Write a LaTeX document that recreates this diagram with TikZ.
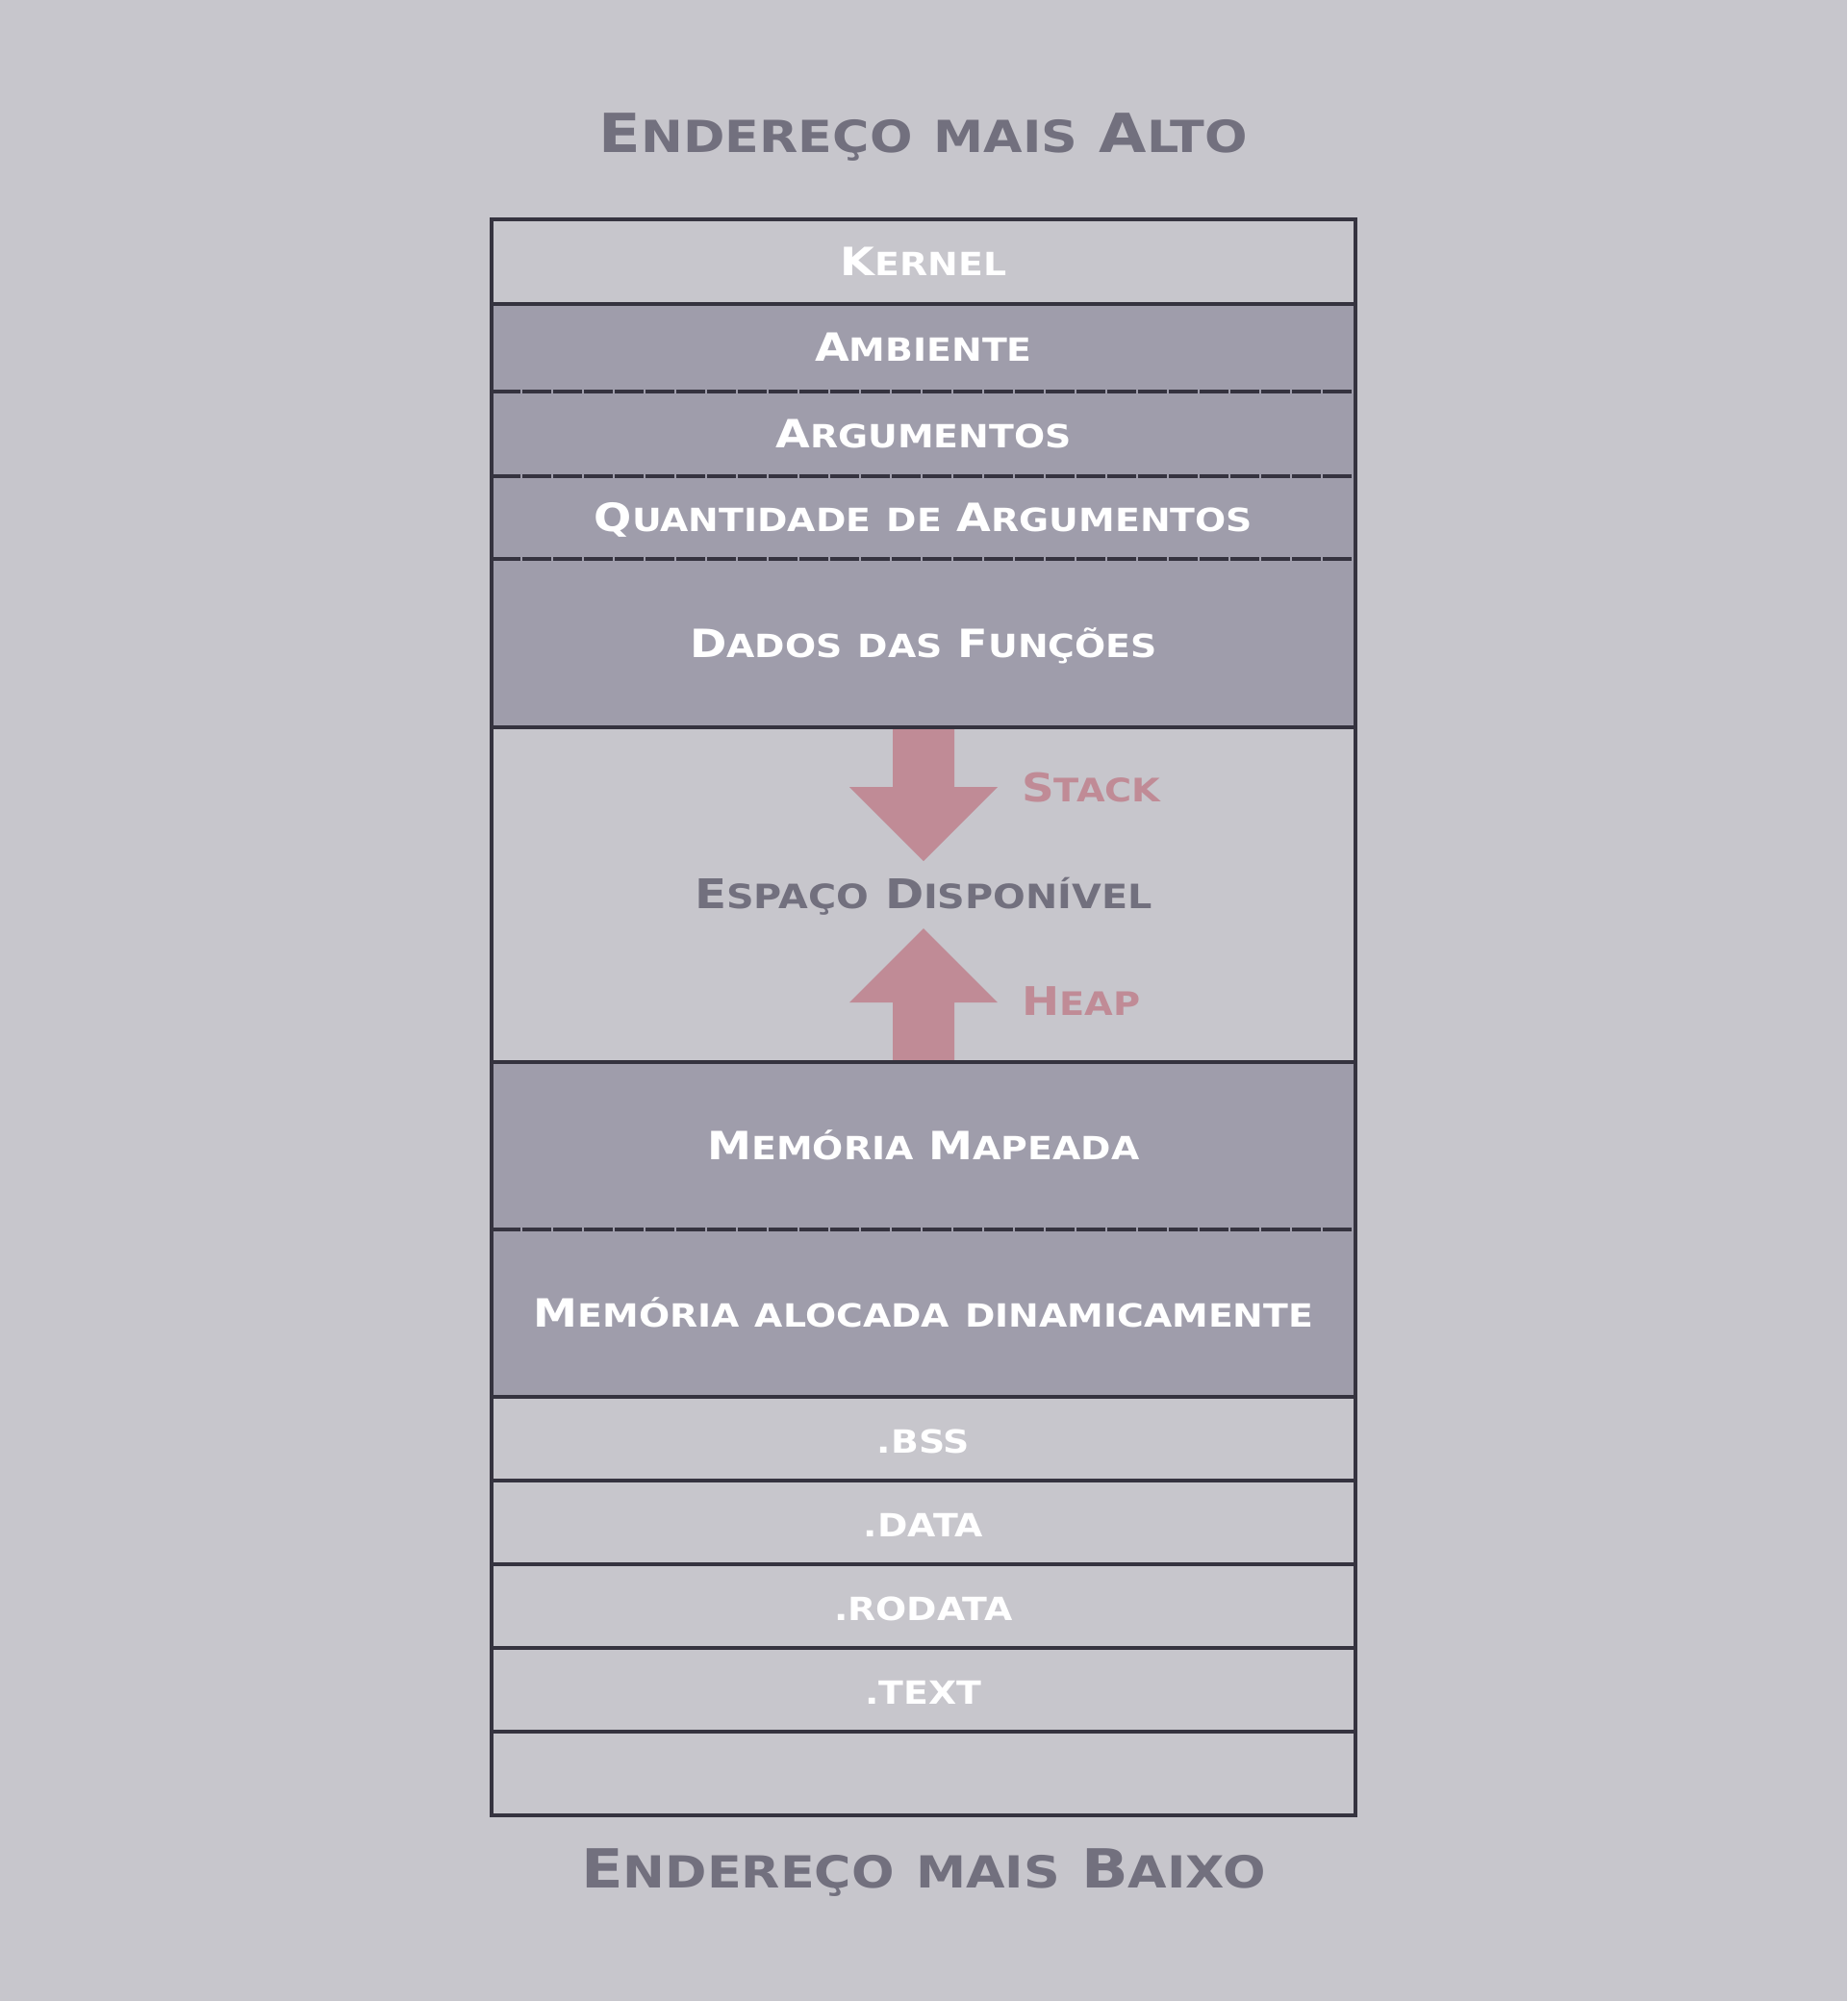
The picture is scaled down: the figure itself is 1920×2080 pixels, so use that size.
\documentclass[tikz,border=0pt]{standalone}
\usepackage{fontspec}
\usepackage{graphicx}
\newfontfamily\pixfont{DejaVu Sans}[FakeStretch=1.14]
\newcommand\lo[1]{\scalebox{0.82}{\MakeUppercase{#1}}}
\definecolor{bgc}{HTML}{C7C6CC}
\definecolor{darkrow}{HTML}{9F9DAB}
\definecolor{linec}{HTML}{35333F}
\definecolor{titlec}{HTML}{72707E}
\definecolor{arrowc}{HTML}{C08B96}
\begin{document}
\begin{tikzpicture}[x=1pt,y=-1pt,
  row/.style={minimum width=898pt, inner sep=0pt, outer sep=0pt, text=white,
    font=\pixfont\bfseries\fontsize{40.5}{40.5}\selectfont, text height=29pt, text depth=0pt},
  lightrow/.style={row, fill=bgc},
  dkrow/.style={row, fill=darkrow},
  sepline/.style={draw=linec, line width=4pt},
  dashsep/.style={sepline, dash pattern=on 30pt off 2pt},
  title/.style={text=titlec, inner sep=0pt, font=\pixfont\bfseries\fontsize{56}{56}\selectfont, text height=40pt, text depth=0pt},
  growlabel/.style={text=arrowc, inner sep=0pt, anchor=west, font=\pixfont\bfseries\fontsize{41}{41}\selectfont, text height=29pt, text depth=0pt},
  growarrow/.style={fill=arrowc, draw=none}
]
\useasboundingbox[fill=bgc] (0,0) rectangle (1920,2080);

\node[title] (top) at (960,138) {E\lo{ndereço} \lo{mais} A\lo{lto}};

\node[lightrow, minimum height=88pt]   (kernel) at (960,272)    {K\lo{ernel}};
\node[dkrow, minimum height=90.5pt]    (amb)    at (960,361.25) {A\lo{mbiente}};
\node[dkrow, minimum height=88.5pt]    (args)   at (960,450.75) {A\lo{rgumentos}};
\node[dkrow, minimum height=86pt]      (qtd)    at (960,538)    {Q\lo{uantidade} \lo{de} A\lo{rgumentos}};
\node[dkrow, minimum height=175pt]     (dados)  at (960,668.5)  {D\lo{ados} \lo{das} F\lo{unções}};
\node[lightrow, minimum height=347.5pt, text=titlec,
  font=\pixfont\bfseries\fontsize{42.5}{42.5}\selectfont] (esp) at (960,929.75) {E\lo{spaço} D\lo{isponível}};
\node[dkrow, minimum height=174.5pt]   (mapa)   at (960,1190.75) {M\lo{emória} M\lo{apeada}};
\node[dkrow, minimum height=174pt]     (dyn)    at (960,1365)   {M\lo{emória} \lo{alocada} \lo{dinamicamente}};
\node[lightrow, minimum height=87pt]   (bss)    at (960,1495.5) {\lo{.bss}};
\node[lightrow, minimum height=87pt]   (data)   at (960,1582.5) {\lo{.data}};
\node[lightrow, minimum height=87pt]   (rodata) at (960,1669.5) {\lo{.rodata}};
\node[lightrow, minimum height=87pt]   (text)   at (960,1756.5) {\lo{.text}};
\node[lightrow, minimum height=87pt]   (empty)  at (960,1843.5) {};

% growth arrows
\fill[growarrow] (928,756) -- (992,756) -- (992,818) -- (1037,818) -- (960,895)
  -- (883,818) -- (928,818) -- cycle;
\fill[growarrow] (928,1103.5) -- (992,1103.5) -- (992,1042) -- (1037,1042) -- (960,965)
  -- (883,1042) -- (928,1042) -- cycle;
\node[growlabel] (stack) at (1062,819)  {S\lo{tack}};
\node[growlabel] (heap)  at (1062,1041) {H\lo{eap}};

% separators
\draw[sepline]  (kernel.south west) -- (kernel.south east);
\draw[dashsep]  (amb.south west)    -- (amb.south east);
\draw[dashsep]  (args.south west)   -- (args.south east);
\draw[dashsep]  (qtd.south west)    -- (qtd.south east);
\draw[sepline]  (dados.south west)  -- (dados.south east);
\draw[sepline]  (esp.south west)    -- (esp.south east);
\draw[dashsep]  (mapa.south west)   -- (mapa.south east);
\draw[sepline]  (dyn.south west)    -- (dyn.south east);
\draw[sepline]  (bss.south west)    -- (bss.south east);
\draw[sepline]  (data.south west)   -- (data.south east);
\draw[sepline]  (rodata.south west) -- (rodata.south east);
\draw[sepline]  (text.south west)   -- (text.south east);
\draw[sepline]  (kernel.north west) rectangle (empty.south east);

\node[title] (bottom) at (960,1942) {E\lo{ndereço} \lo{mais} B\lo{aixo}};
\end{tikzpicture}
\end{document}
